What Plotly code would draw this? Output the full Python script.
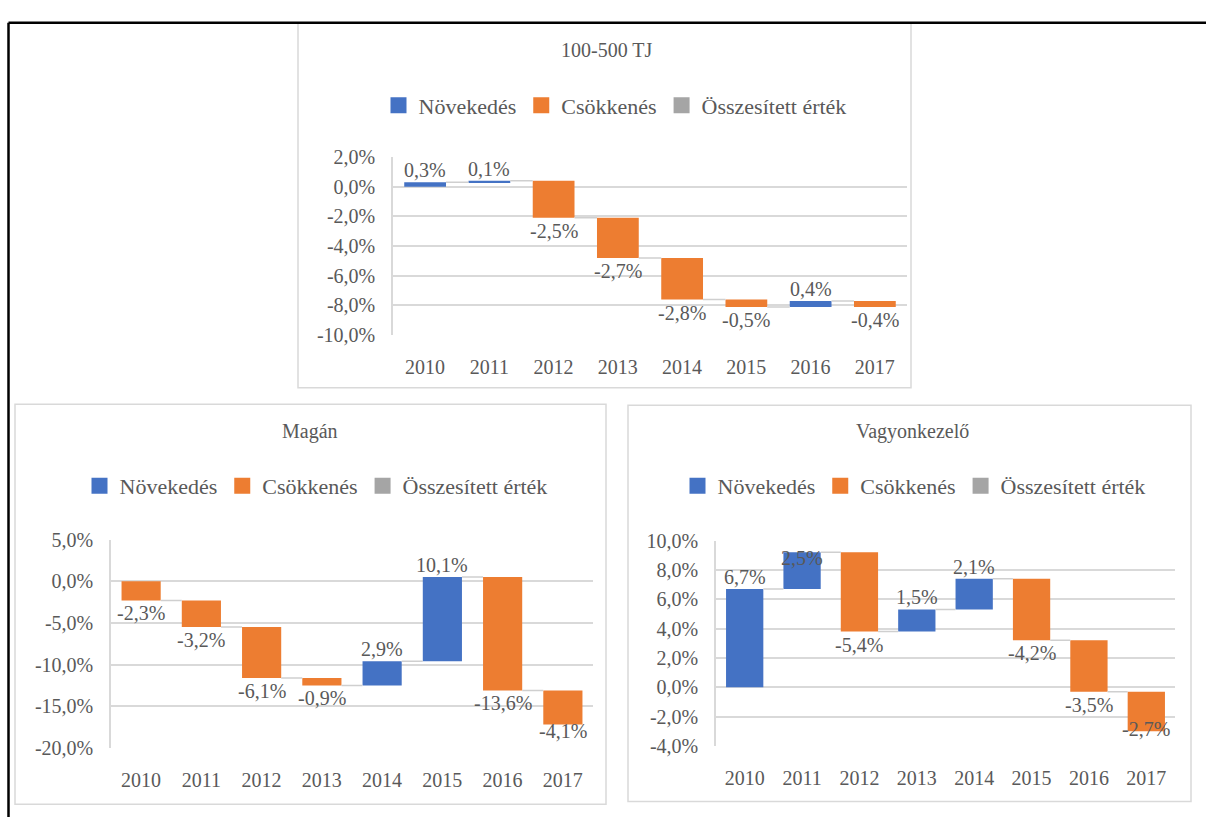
import plotly.graph_objects as go

# ── data ────────────────────────────────────────────────────────────────────
years = ["2010", "2011", "2012", "2013", "2014", "2015", "2016", "2017"]

tj_change = [0.3, 0.1, -2.5, -2.7, -2.8, -0.5, 0.4, -0.4]
magan_change = [-2.3, -3.2, -6.1, -0.9, 2.9, 10.1, -13.6, -4.1]
vagyon_change = [6.7, 2.5, -5.4, 1.5, 2.1, -4.2, -3.5, -2.7]

tj_ticks = [2, 0, -2, -4, -6, -8, -10]
magan_ticks = [5, 0, -5, -10, -15, -20]
vagyon_ticks = [10, 8, 6, 4, 2, 0, -2, -4]

titles = ["100-500 TJ", "Magán", "Vagyonkezelő"]
legend_names = ["Növekedés", "Csökkenés", "Összesített érték"]

# ── style ───────────────────────────────────────────────────────────────────
W, H = 1206, 828
BLUE, ORANGE, GRAY = "#4472C4", "#ED7D31", "#A5A5A5"
GRID = "#d9d9d9"
TXT = "#595959"
FONT = "Times New Roman, Liberation Serif, DejaVu Serif, serif"
FS = 20
BAR_W = 0.65

# page pixels: panel border, plot area, title and legend centres
panels = [
    dict(data=tj_change, ticks=tj_ticks, title=titles[0],
         box=(298, 12, 911, 387), plot=(393, 150, 907, 333),
         title_xy=(607, 40), legend_xy=(615, 97)),
    dict(data=magan_change, ticks=magan_ticks, title=titles[1],
         box=(15, 404, 606, 815), plot=(111, 543, 593, 757),
         title_xy=(310, 432), legend_xy=(316, 488)),
    dict(data=vagyon_change, ticks=vagyon_ticks, title=titles[2],
         box=(628, 405, 1191, 812), plot=(716, 544, 1175, 755),
         title_xy=(912, 432), legend_xy=(914, 488)),
]


def px(x):
    return x / W


def py(y):
    return 1 - y / H


def pct(v):
    return f"{v:.1f}%".replace(".", ",")


fig = go.Figure()
layout = dict(
    width=W, height=H, margin=dict(l=0, r=0, t=0, b=0),
    paper_bgcolor="white", plot_bgcolor="white",
    barmode="overlay",
    font=dict(family=FONT, size=FS, color=TXT),
    shapes=[], annotations=[],
)

# outer black frame (top + left)
layout["shapes"] += [
    dict(type="line", xref="paper", yref="paper", x0=px(8.5), x1=1, y0=py(12), y1=py(12),
         line=dict(color="black", width=2.5)),
    dict(type="line", xref="paper", yref="paper", x0=px(8.5), x1=px(8.5), y0=py(12), y1=0,
         line=dict(color="black", width=2.5)),
]

for k, p in enumerate(panels, start=1):
    sfx = "" if k == 1 else str(k)
    xa, ya = "x" + sfx, "y" + sfx
    leg = "legend" + sfx

    changes = p["data"]
    ends, run = [], 0.0
    for d in changes:
        run = round(run + d, 2)
        ends.append(run)
    starts = [0.0] + ends[:-1]

    inc = [i for i, d in enumerate(changes) if d > 0]
    dec = [i for i, d in enumerate(changes) if d < 0]

    fig.add_trace(go.Bar(
        x=inc, y=[changes[i] for i in inc], base=[starts[i] for i in inc],
        width=BAR_W, marker=dict(color=BLUE, line_width=0),
        showlegend=False, xaxis=xa, yaxis=ya,
    ))
    fig.add_trace(go.Bar(
        x=dec, y=[changes[i] for i in dec], base=[starts[i] for i in dec],
        width=BAR_W, marker=dict(color=ORANGE, line_width=0),
        showlegend=False, xaxis=xa, yaxis=ya,
    ))

    # legend entries (big square swatches)
    for name, col in zip(legend_names, [BLUE, ORANGE, GRAY]):
        fig.add_trace(go.Scatter(
            x=[None], y=[None], mode="markers", name=name, legend=leg,
            marker=dict(symbol="square", size=16, color=col),
            xaxis=xa, yaxis=ya,
        ))

    # connectors between bars
    cx, cy = [], []
    for i in range(len(changes) - 1):
        cx += [i + BAR_W / 2, i + 1 - BAR_W / 2, None]
        cy += [ends[i], ends[i], None]
    fig.add_trace(go.Scatter(
        x=cx, y=cy, mode="lines", line=dict(color="#cfcfcf", width=1.5),
        showlegend=False, hoverinfo="skip", xaxis=xa, yaxis=ya,
    ))

    # axes
    x0, y0, x1, y1 = p["plot"]
    ymin, ymax = min(p["ticks"]), max(p["ticks"])
    layout["xaxis" + sfx] = dict(
        domain=[px(x0), px(x1)], anchor=ya, range=[-0.5, len(years) - 0.5],
        tickvals=list(range(len(years))), ticktext=years,
        showgrid=False, zeroline=False, showline=False, ticks="",
        ticklabelstandoff=18, tickfont=dict(size=FS, color=TXT, family=FONT),
        fixedrange=True,
    )
    layout["yaxis" + sfx] = dict(
        domain=[py(y1), py(y0)], anchor=xa, range=[ymin, ymax],
        tickvals=p["ticks"], ticktext=[pct(t) for t in p["ticks"]],
        showgrid=True, gridcolor=GRID, gridwidth=1.5,
        showline=True, linecolor=GRID, linewidth=1.5,
        zeroline=False, ticks="", ticklabelstandoff=12,
        tickfont=dict(size=FS, color=TXT, family=FONT), fixedrange=True,
    )

    # data labels (kept inside the plot area like Excel)
    ppu = (y1 - y0) / (ymax - ymin)
    lab_h = 24 / ppu
    for i, d in enumerate(changes):
        if d > 0:
            y, anchor, shift = ends[i], "bottom", -1
            if y + lab_h > ymax:
                y, anchor, shift = ymax, "top", -4
        else:
            y, anchor, shift = ends[i], "top", 0
            if y - lab_h < ymin:
                y, anchor, shift = ymin, "bottom", 4
        layout["annotations"].append(dict(
            xref=xa, yref=ya, x=i, y=y, text=pct(d), showarrow=False,
            yanchor=anchor, yshift=shift,
            font=dict(size=FS, color=TXT, family=FONT),
        ))

    # title
    tx, ty = p["title_xy"]
    layout["annotations"].append(dict(
        xref="paper", yref="paper", x=px(tx), y=py(ty), text=p["title"],
        showarrow=False, xanchor="center", yanchor="middle",
        font=dict(size=FS, color=TXT, family=FONT),
    ))

    # legend
    lx, ly = p["legend_xy"]
    layout[leg] = dict(
        orientation="h", x=px(lx), y=py(ly), xanchor="center", yanchor="middle",
        font=dict(size=22, color=TXT, family=FONT), bgcolor="rgba(0,0,0,0)",
        traceorder="normal", itemsizing="trace", itemwidth=30,
        itemclick=False, itemdoubleclick=False,
    )

    # panel border
    bx0, by0, bx1, by1 = p["box"]
    layout["shapes"].append(dict(
        type="rect", xref="paper", yref="paper",
        x0=px(bx0), x1=px(bx1), y0=py(by1), y1=py(by0),
        line=dict(color=GRID, width=1.5), layer="below",
    ))

fig.update_layout(**layout)
# drop the default 8px body margin so the figure fills the 1206x828 window
fig.write_html("out.html", config={"displayModeBar": False},
               post_script="document.body.style.margin='0';")
